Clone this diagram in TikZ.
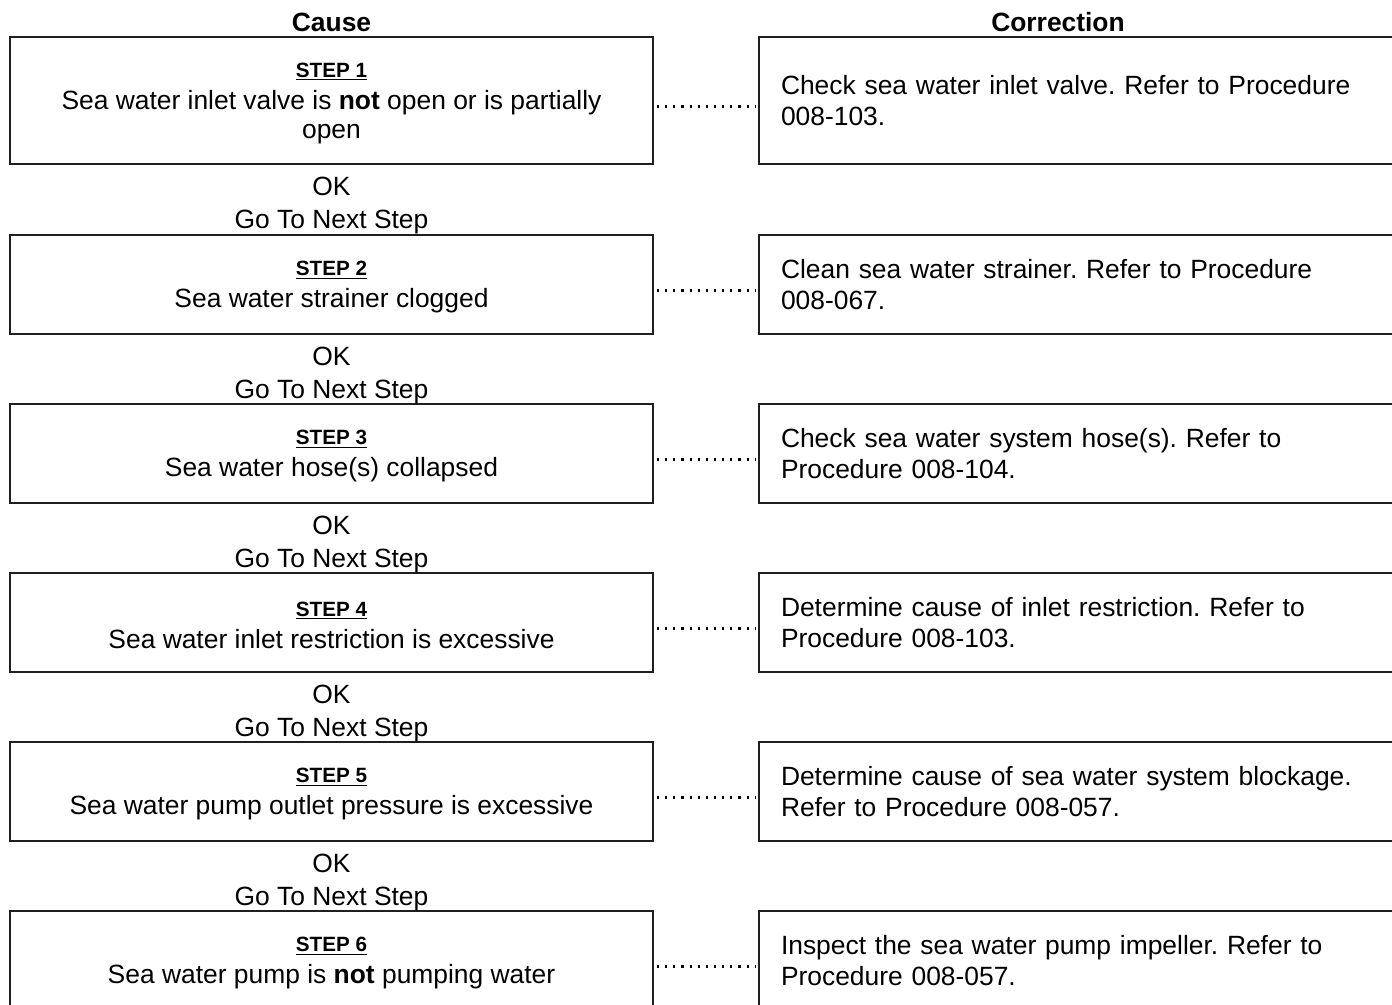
\documentclass[tikz,border=0pt]{standalone}
\usepackage{fontspec}
\setmainfont{Liberation Sans}
\usetikzlibrary{calc}
\frenchspacing

\def\u{0.75pt}
\tikzset{
  causebox/.style={draw=black!88, line width=1.6pt, minimum width=643*\u, align=center,
    inner sep=0pt, font=\fontsize{19.8}{21.8}\selectfont},
  fixbox/.style={draw=black!88, line width=1.6pt, text width=616*\u, inner xsep=22*\u,
    inner ysep=0pt, align=left, font=\fontsize{19.8}{23}\selectfont},
  flowtext/.style={anchor=base, inner sep=0pt, font=\fontsize{19.8}{22}\selectfont},
  headtext/.style={anchor=base, inner sep=0pt, font=\fontsize{19.8}{22}\selectfont\bfseries},
  dotline/.style={line width=1.6pt, dash pattern=on 1.6pt off 4.5pt, shorten <=3*\u, shorten >=3*\u}
}
\newcommand{\steplabel}[1]{{\fontsize{15.5}{17}\selectfont\rule{0pt}{15pt}\bfseries\underline{#1}}}

\begin{document}
\begin{tikzpicture}[x=\u, y=-\u]
\useasboundingbox (0,0) rectangle (1392,1005);
\clip (0,0) rectangle (1392,1005);

\node[headtext] (cause) at (331.5, 31.5) {Cause};
\node[headtext] (corr) at (1058, 31.5) {Correction};

% causes
\node[causebox, minimum height=127*\u] (c1) at (331.5, 100.5)
  {\steplabel{STEP 1}\\[2.2pt] Sea water inlet valve is \textbf{not} open or is partially\\ open};
\node[causebox, minimum height=99*\u] (c2) at (331.5, 284.5)
  {\steplabel{STEP 2}\\[2.2pt] Sea water strainer clogged};
\node[causebox, minimum height=99*\u] (c3) at (331.5, 453.5)
  {\steplabel{STEP 3}\\[2.2pt] Sea water hose(s) collapsed};
\node[causebox, minimum height=99*\u] (c4) at (331.5, 622.5)
  {\steplabel{STEP 4}\\[2.2pt] Sea water inlet restriction is excessive};
\node[causebox, minimum height=99*\u] (c5) at (331.5, 791.5)
  {\steplabel{STEP 5}\\[2.2pt] Sea water pump outlet pressure is excessive};
\node[causebox, minimum height=99*\u] (c6) at (331.5, 960.5)
  {\steplabel{STEP 6}\\[2.2pt] Sea water pump is \textbf{not} pumping water};

% corrections
\node[fixbox, minimum height=127*\u] (r1) at (1089, 100.5)
  {Check sea water inlet valve. Refer to Procedure\\ 008-103.};
\node[fixbox, minimum height=99*\u] (r2) at (1089, 284.5)
  {Clean sea water strainer. Refer to Procedure\\ 008-067.};
\node[fixbox, minimum height=99*\u] (r3) at (1089, 453.5)
  {Check sea water system hose(s). Refer to\\ Procedure 008-104.};
\node[fixbox, minimum height=99*\u] (r4) at (1089, 622.5)
  {Determine cause of inlet restriction. Refer to\\ Procedure 008-103.};
\node[fixbox, minimum height=99*\u] (r5) at (1089, 791.5)
  {Determine cause of sea water system blockage.\\ Refer to Procedure 008-057.};
\node[fixbox, minimum height=99*\u] (r6) at (1089, 960.5)
  {Inspect the sea water pump impeller. Refer to\\ Procedure 008-057.};

% OK / next step
\node[flowtext] (ok1) at ($(c1.south)+(0,30)$) {OK};
\node[flowtext] (go1) at ($(c1.south)+(0,63)$) {Go To Next Step};
\node[flowtext] (ok2) at ($(c2.south)+(0,30)$) {OK};
\node[flowtext] (go2) at ($(c2.south)+(0,63)$) {Go To Next Step};
\node[flowtext] (ok3) at ($(c3.south)+(0,30)$) {OK};
\node[flowtext] (go3) at ($(c3.south)+(0,63)$) {Go To Next Step};
\node[flowtext] (ok4) at ($(c4.south)+(0,30)$) {OK};
\node[flowtext] (go4) at ($(c4.south)+(0,63)$) {Go To Next Step};
\node[flowtext] (ok5) at ($(c5.south)+(0,30)$) {OK};
\node[flowtext] (go5) at ($(c5.south)+(0,63)$) {Go To Next Step};

\draw[dotline] ([yshift=-4.5pt]c1.east) -- ([yshift=-4.5pt]r1.west);
\draw[dotline] ([yshift=-4.5pt]c2.east) -- ([yshift=-4.5pt]r2.west);
\draw[dotline] ([yshift=-4.5pt]c3.east) -- ([yshift=-4.5pt]r3.west);
\draw[dotline] ([yshift=-4.5pt]c4.east) -- ([yshift=-4.5pt]r4.west);
\draw[dotline] ([yshift=-4.5pt]c5.east) -- ([yshift=-4.5pt]r5.west);
\draw[dotline] ([yshift=-4.5pt]c6.east) -- ([yshift=-4.5pt]r6.west);
\end{tikzpicture}
\end{document}
